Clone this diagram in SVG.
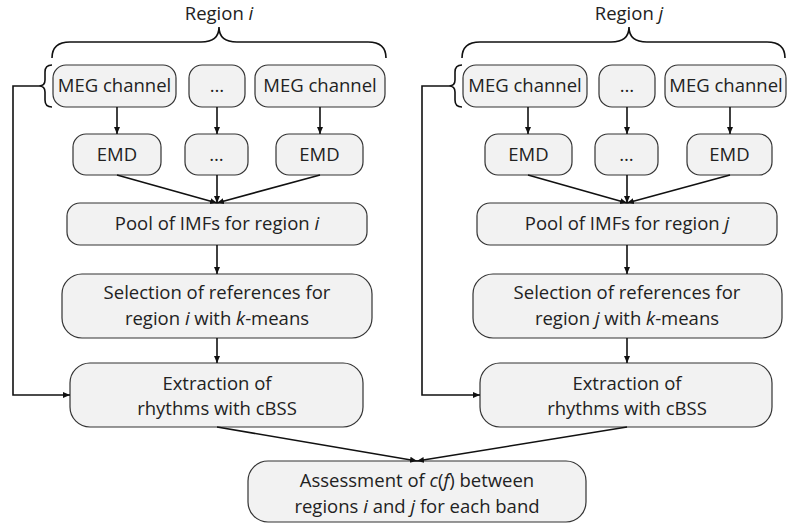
<svg xmlns="http://www.w3.org/2000/svg" width="787" height="524" viewBox="0 0 787 524">
<defs>
<style>
.box{fill:#f2f2f2;stroke:#333;stroke-width:1.2}
.t{font-family:"Open Sans","DejaVu Sans",sans-serif;font-size:18.5px;fill:#222;text-anchor:middle}
.it{font-style:italic}
.ln{fill:none;stroke:#111;stroke-width:1.6}
.br{fill:none;stroke:#111;stroke-width:1.6}
</style>
<marker id="ah" markerWidth="8" markerHeight="8" refX="7" refY="4" orient="auto" markerUnits="userSpaceOnUse">
<path d="M0,1 L7,4 L0,7 Z" fill="#111"/>
</marker>
</defs>
<rect width="787" height="524" fill="#fff"/>

<g id="region-i-label">
<text class="t" x="219" y="20">Region <tspan class="it">i</tspan></text>
<path class="br" d="M52,58 Q52,42 70,42 L201,42 Q219,42 219,27 Q219,42 237,42 L368,42 Q386,42 386,58"/>
<path class="br" d="M52,65 Q45,65 45,72 L45,80 Q45,86 39,86 Q45,86 45,92 L45,100 Q45,107 52,107"/>
</g>
<g id="region-j-label">
<text class="t" x="629" y="20">Region <tspan class="it">j</tspan></text>
<path class="br" d="M462,58 Q462,42 480,42 L611,42 Q629,42 629,27 Q629,42 647,42 L767,42 Q785,42 785,58"/>
<path class="br" d="M462,65 Q455,65 455,72 L455,80 Q455,86 449,86 Q455,86 455,92 L455,100 Q455,107 462,107"/>
</g>

<g id="meg-i-1"><rect class="box" x="53" y="65" width="123" height="42" rx="13"/><text class="t" x="114.5" y="92">MEG channel</text></g>
<g id="meg-i-2"><rect class="box" x="189" y="65" width="56" height="42" rx="13"/><text class="t" x="217" y="92">…</text></g>
<g id="meg-i-3"><rect class="box" x="255" y="65" width="130" height="42" rx="13"/><text class="t" x="320" y="92">MEG channel</text></g>

<g id="meg-j-1"><rect class="box" x="463" y="65" width="124" height="42" rx="13"/><text class="t" x="525" y="92">MEG channel</text></g>
<g id="meg-j-2"><rect class="box" x="599" y="65" width="56" height="42" rx="13"/><text class="t" x="627" y="92">…</text></g>
<g id="meg-j-3"><rect class="box" x="665" y="65" width="121" height="42" rx="13"/><text class="t" x="726" y="92">MEG channel</text></g>

<g id="emd-i-1"><rect class="box" x="73" y="134" width="88" height="41" rx="13"/><text class="t" x="117" y="161">EMD</text></g>
<g id="emd-i-2"><rect class="box" x="185" y="134" width="63" height="41" rx="13"/><text class="t" x="216.5" y="161">…</text></g>
<g id="emd-i-3"><rect class="box" x="276" y="134" width="87" height="41" rx="13"/><text class="t" x="319.5" y="161">EMD</text></g>

<g id="emd-j-1"><rect class="box" x="485" y="134" width="87" height="41" rx="13"/><text class="t" x="528.5" y="161">EMD</text></g>
<g id="emd-j-2"><rect class="box" x="595" y="134" width="63" height="41" rx="13"/><text class="t" x="626.5" y="161">…</text></g>
<g id="emd-j-3"><rect class="box" x="687" y="134" width="85" height="41" rx="13"/><text class="t" x="729.5" y="161">EMD</text></g>

<g id="pool-i"><rect class="box" x="67" y="203" width="300" height="42" rx="13"/><text class="t" x="217" y="230">Pool of IMFs for region <tspan class="it">i</tspan></text></g>
<g id="pool-j"><rect class="box" x="477" y="203" width="300" height="42" rx="13"/><text class="t" x="627" y="230">Pool of IMFs for region <tspan class="it">j</tspan></text></g>

<g id="sel-i"><rect class="box" x="62" y="274" width="310" height="64" rx="20"/>
<text class="t" x="217" y="299">Selection of references for</text>
<text class="t" x="217" y="325">region <tspan class="it">i</tspan> with <tspan class="it">k</tspan>-means</text></g>
<g id="sel-j"><rect class="box" x="473" y="274" width="309" height="64" rx="20"/>
<text class="t" x="627" y="299">Selection of references for</text>
<text class="t" x="627" y="325">region <tspan class="it">j</tspan> with <tspan class="it">k</tspan>-means</text></g>

<g id="ext-i"><rect class="box" x="70" y="363" width="293" height="64" rx="20"/>
<text class="t" x="217" y="390">Extraction of</text>
<text class="t" x="217" y="415">rhythms with cBSS</text></g>
<g id="ext-j"><rect class="box" x="480" y="363" width="292" height="64" rx="20"/>
<text class="t" x="627" y="390">Extraction of</text>
<text class="t" x="627" y="415">rhythms with cBSS</text></g>

<g id="assess"><rect class="box" x="248" y="461" width="338" height="61" rx="20"/>
<text class="t" x="417" y="487">Assessment of <tspan class="it">c</tspan>(<tspan class="it">f</tspan>) between</text>
<text class="t" x="417" y="513">regions <tspan class="it">i</tspan> and <tspan class="it">j</tspan> for each band</text></g>

<g id="connectors">
<path class="ln" marker-end="url(#ah)" d="M117,107 L117,134"/>
<path class="ln" marker-end="url(#ah)" d="M217,107 L217,134"/>
<path class="ln" marker-end="url(#ah)" d="M320,107 L320,134"/>
<path class="ln" marker-end="url(#ah)" d="M528,107 L528,134"/>
<path class="ln" marker-end="url(#ah)" d="M627,107 L627,134"/>
<path class="ln" marker-end="url(#ah)" d="M730,107 L730,134"/>

<path class="ln" marker-end="url(#ah)" d="M117,175 L217,203"/>
<path class="ln" marker-end="url(#ah)" d="M217,175 L217,203"/>
<path class="ln" marker-end="url(#ah)" d="M320,175 L217,203"/>
<path class="ln" marker-end="url(#ah)" d="M528,175 L627,203"/>
<path class="ln" marker-end="url(#ah)" d="M627,175 L627,203"/>
<path class="ln" marker-end="url(#ah)" d="M730,175 L627,203"/>

<path class="ln" marker-end="url(#ah)" d="M217,245 L217,274"/>
<path class="ln" marker-end="url(#ah)" d="M627,245 L627,274"/>
<path class="ln" marker-end="url(#ah)" d="M217,338 L217,363"/>
<path class="ln" marker-end="url(#ah)" d="M627,338 L627,363"/>

<path class="ln" marker-end="url(#ah)" d="M39,86 L13,86 L13,395 L70,395"/>
<path class="ln" marker-end="url(#ah)" d="M449,86 L422,86 L422,395 L480,395"/>

<path class="ln" marker-end="url(#ah)" d="M217,427 L417,461"/>
<path class="ln" marker-end="url(#ah)" d="M627,427 L417,461"/>
</g>
</svg>
